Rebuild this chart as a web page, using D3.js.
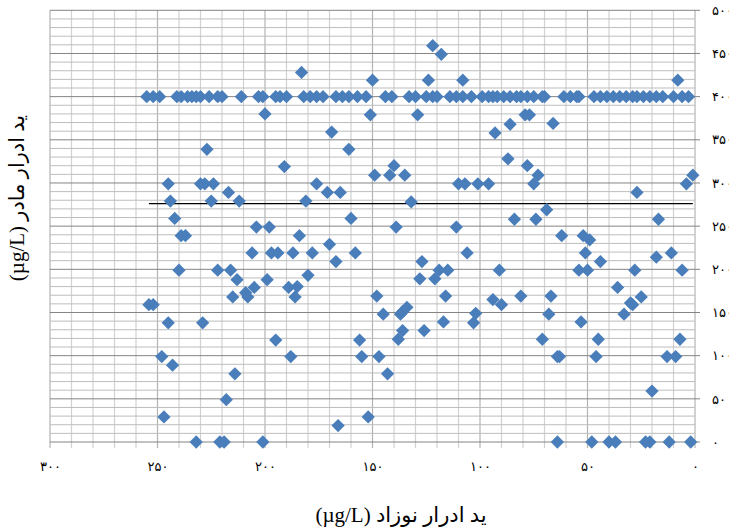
<!DOCTYPE html>
<html>
<head>
<meta charset="utf-8">
<script src="https://cdn.jsdelivr.net/npm/d3@7"></script>
<style>
  body { margin: 0; background: #fff; }
  svg { display: block; }
  .tick text { font-family: "DejaVu Sans", sans-serif; font-size: 13px; fill: #000; }
  .title { font-family: "Liberation Serif", "DejaVu Sans", serif; font-size: 21px; fill: #000; }
</style>
</head>
<body>
<div id="chart"></div>
<script>
// baby urine iodine (x) at 400 cap for mother
var rowBaby = [255,252,249,241,239,236,234,232,230,226,222,220,211,203,201,195,193,190,182,179,176,173,167,164,161,157,153,144,141,133,130,125,122,120,114,111,108,104,99,96,94,92,89,86,83,81,78,75,71,70,61,58,55,54,47,44,41,38,35,32,29,27,24,21,18,15,10,6,3];

var babyIodine = [183,150,122,118,124,108,8,
  200,169,227,161,191,151,149,245,230,228,224,217,176,171,165,244,225,212,181,242,160,204,198,239,237,184,170,
  206,197,194,187,178,158,167,240,222,216,213,199,180,205,189,185,209,215,208,186,254,252,245,229,195,156,
  248,188,155,243,214,218,247,166,152,232,221,219,201,
  140,142,135,87,78,73,75,110,107,101,96,132,69,84,74,139,111,62,52,49,106,51,127,44,119,115,91,54,50,
  128,121,148,116,81,67,94,90,134,145,137,136,102,68,117,103,53,136,126,138,71,45,147,64,63,46,143,64,48,
  129,93,86,79,77,66,
  36,40,37,27,17,4,1,18,11,28,6,25,30,29,33,7,13,9,20,23,21,12,2];

var motherIodine = [428,419,459,449,419,419,419,
  380,359,339,339,319,379,309,299,299,299,299,289,299,289,289,279,279,279,279,259,259,249,249,239,239,239,229,
  219,219,219,219,219,219,209,199,199,199,188,188,193,179,179,180,173,168,168,168,159,159,138,138,118,118,
  99,99,99,89,79,49,29,19,29,0,0,0,0,
  320,309,309,328,320,309,299,299,299,299,299,278,269,258,258,249,249,239,239,234,219,219,209,209,199,199,199,199,199,
  189,189,169,169,169,169,165,159,156,148,148,151,149,148,139,138,139,129,129,119,119,119,99,99,99,99,79,0,0,
  379,358,368,379,379,369,
  179,0,0,289,258,299,309,214,219,199,199,168,161,159,148,119,99,99,59,0,0,0,0];

var rowMother = 400;

// black reference line
var lineBaby = [254, 1];
var lineMother = 276;

var xTicks = [300, 250, 200, 150, 100, 50, 0];
var xTickLabels = ['۳۰۰', '۲۵۰', '۲۰۰', '۱۵۰', '۱۰۰', '۵۰', '۰'];
var yTicks = [0, 50, 100, 150, 200, 250, 300, 350, 400, 450, 500];
var yTickLabels = ['۰', '۵۰', '۱۰۰', '۱۵۰', '۲۰۰', '۲۵۰', '۳۰۰', '۳۵۰', '۴۰۰', '۴۵۰', '۵۰۰'];

var xTitle = 'ید ادرار نوزاد (µg/L)';
var yTitle = 'ید ادرار مادر (µg/L)';

var points = rowBaby.map(function(b) { return { x: b, y: rowMother }; })
  .concat(babyIodine.map(function(b, i) { return { x: b, y: motherIodine[i] }; }));

var W = 729, H = 529;
var svg = d3.select('#chart').append('svg').attr('width', W).attr('height', H);

var x = d3.scaleLinear().domain([300, 0]).range([50, 695]);
var y = d3.scaleLinear().domain([0, 500]).range([442, 10.3]);

var grid = svg.append('g');

// vertical grid every 10
grid.selectAll('.vg')
  .data(d3.range(0, 301, 10))
  .enter().append('line')
  .attr('x1', d => x(d)).attr('x2', d => x(d))
  .attr('y1', y(500)).attr('y2', 448)
  .attr('stroke', d => d % 50 == 0 ? '#b4b4b4' : '#d2d2d2')
  .attr('stroke-width', 1.2);

// horizontal grid every 10
grid.selectAll('.hg')
  .data(d3.range(0, 501, 10))
  .enter().append('line')
  .attr('x1', x(300)).attr('x2', d => d % 50 == 0 ? 700 : x(0))
  .attr('y1', d => y(d)).attr('y2', d => y(d))
  .attr('stroke', d => d % 50 == 0 ? '#848484' : '#bdbdbd')
  .attr('stroke-width', 1);

// x labels
var xAxis = svg.append('g')
  .attr('transform', 'translate(0,442)')
  .call(d3.axisBottom(x).tickValues(xTicks).tickSize(0).tickPadding(20)
    .tickFormat((d, i) => xTickLabels[i]));
xAxis.select('.domain').remove();

// y labels on the right
var yAxis = svg.append('g')
  .attr('transform', 'translate(700,0)')
  .call(d3.axisRight(y).tickValues(yTicks).tickSize(0).tickPadding(12)
    .tickFormat((d, i) => yTickLabels[i]));
yAxis.select('.domain').remove();

// reference line
svg.append('line')
  .attr('x1', x(lineBaby[0])).attr('x2', x(lineBaby[1]))
  .attr('y1', y(lineMother)).attr('y2', y(lineMother))
  .attr('stroke', '#000').attr('stroke-width', 1.3);

// diamonds
svg.append('g').selectAll('path')
  .data(points)
  .enter().append('path')
  .attr('d', d3.symbol(d3.symbolSquare, 88))
  .attr('transform', d => `translate(${x(d.x)},${y(d.y)}) rotate(45)`)
  .attr('fill', '#4a7ebb');

svg.append('text')
  .attr('class', 'title')
  .attr('x', 401).attr('y', 522)
  .attr('text-anchor', 'middle')
  .attr('direction', 'rtl')
  .text(xTitle);

svg.append('text')
  .attr('class', 'title')
  .attr('transform', 'translate(24,198) rotate(-90)')
  .attr('text-anchor', 'middle')
  .attr('direction', 'rtl')
  .text(yTitle);
</script>
</body>
</html>
